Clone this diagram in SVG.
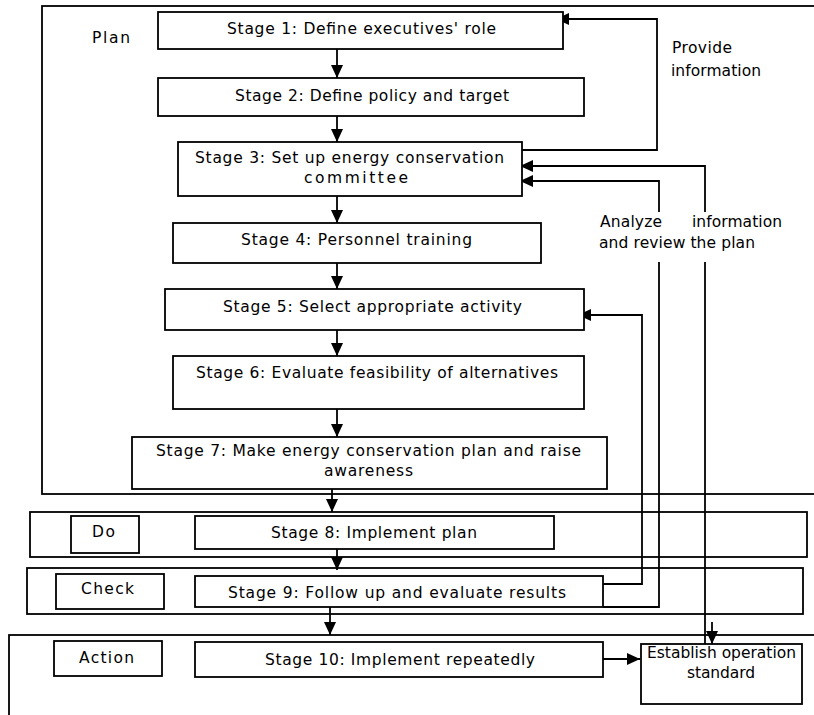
<svg xmlns="http://www.w3.org/2000/svg" width="814" height="715" viewBox="0 0 814 715">
<defs>
<style>
.b{fill:#fff;stroke:#000;stroke-width:1.8}
.f{fill:none;stroke:#000;stroke-width:1.8}
.t{font-family:"DejaVu Sans",Verdana,sans-serif;font-size:15.5px;fill:#000}
.c{stroke:#000;stroke-width:1.8;fill:none}
</style>
<marker id="ah" markerUnits="userSpaceOnUse" markerWidth="13" markerHeight="12" refX="13" refY="6" orient="auto">
<path d="M0,0 L13,6 L0,12 z" fill="#000"/>
</marker>
</defs>
<rect width="814" height="715" fill="#fff"/>
<g id="phases">
<rect id="plan-band" class="f" x="42" y="6" width="800" height="488"/>
<rect id="do-band" class="f" x="30" y="512" width="777" height="45"/>
<rect id="check-band" class="f" x="27" y="568" width="776" height="46"/>
<rect id="action-band" class="f" x="9" y="635" width="830" height="100"/>
<text class="t" x="92" y="43" textLength="38">Plan</text>
</g>
<g id="connectors">
<line class="c" x1="337" y1="49" x2="337" y2="78" marker-end="url(#ah)"/>
<line class="c" x1="337" y1="116" x2="337" y2="142" marker-end="url(#ah)"/>
<line class="c" x1="337" y1="196" x2="337" y2="223" marker-end="url(#ah)"/>
<line class="c" x1="337" y1="263" x2="337" y2="289" marker-end="url(#ah)"/>
<line class="c" x1="337" y1="330" x2="337" y2="356" marker-end="url(#ah)"/>
<line class="c" x1="337" y1="409" x2="337" y2="437" marker-end="url(#ah)"/>
<line class="c" x1="332" y1="489" x2="332" y2="512" marker-end="url(#ah)"/>
<line class="c" x1="337" y1="549" x2="337" y2="570" marker-end="url(#ah)"/>
<line class="c" x1="330" y1="607" x2="330" y2="635" marker-end="url(#ah)"/>
<polyline class="c" points="522,150 657,150 657,19 556,19" marker-end="url(#ah)"/>
<polyline class="c" points="705,212 705,166 520,166" marker-end="url(#ah)"/>
<line class="c" x1="705" y1="262" x2="705" y2="644"/>
<line class="c" x1="712" y1="622" x2="712" y2="644" marker-end="url(#ah)"/>
<polyline class="c" points="659,212 659,181 520,181" marker-end="url(#ah)"/>
<polyline class="c" points="603,607 659,607 659,262"/>
<polyline class="c" points="603,584 642,584 642,315 578,315" marker-end="url(#ah)"/>
<line class="c" x1="597" y1="659" x2="640" y2="659" marker-end="url(#ah)"/>
<text class="t" x="672" y="53" textLength="60">Provide</text>
<text class="t" x="671" y="76" textLength="90">information</text>
<text class="t" x="600" y="227" textLength="62">Analyze</text>
<text class="t" x="692" y="227" textLength="90">information</text>
<text class="t" x="599" y="248" textLength="156">and review the plan</text>
</g>
<g id="stage1"><rect class="b" x="158" y="12" width="405" height="37"/><text class="t" x="227" y="34" textLength="269">Stage 1: Define executives' role</text></g>
<g id="stage2"><rect class="b" x="158" y="78" width="426" height="38"/><text class="t" x="235" y="101" textLength="274">Stage 2: Define policy and target</text></g>
<g id="stage3"><rect class="b" x="178" y="142" width="344" height="54"/><text class="t" x="195" y="163" textLength="309">Stage 3: Set up energy conservation</text><text class="t" x="304" y="183" textLength="104">committee</text></g>
<g id="stage4"><rect class="b" x="173" y="223" width="368" height="40"/><text class="t" x="241" y="245" textLength="231">Stage 4: Personnel training</text></g>
<g id="stage5"><rect class="b" x="165" y="289" width="419" height="41"/><text class="t" x="223" y="312" textLength="299">Stage 5: Select appropriate activity</text></g>
<g id="stage6"><rect class="b" x="173" y="356" width="411" height="53"/><text class="t" x="196" y="378" textLength="362">Stage 6: Evaluate feasibility of alternatives</text></g>
<g id="stage7"><rect class="b" x="132" y="437" width="475" height="52"/><text class="t" x="156" y="456" textLength="425">Stage 7: Make energy conservation plan and raise</text><text class="t" x="324" y="476" textLength="89">awareness</text></g>
<g id="do"><rect class="b" x="71" y="516" width="68" height="37"/><text class="t" x="92" y="537" textLength="23">Do</text></g>
<g id="stage8"><rect class="b" x="195" y="516" width="359" height="33"/><text class="t" x="271" y="538" textLength="206">Stage 8: Implement plan</text></g>
<g id="check"><rect class="b" x="56" y="574" width="108" height="35"/><text class="t" x="81" y="594" textLength="53">Check</text></g>
<g id="stage9"><rect class="b" x="195" y="576" width="408" height="31"/><text class="t" x="228" y="598" textLength="338">Stage 9: Follow up and evaluate results</text></g>
<g id="action"><rect class="b" x="54" y="641" width="108" height="35"/><text class="t" x="79" y="663" textLength="55">Action</text></g>
<g id="stage10"><rect class="b" x="195" y="642" width="408" height="35"/><text class="t" x="265" y="665" textLength="270">Stage 10: Implement repeatedly</text></g>
<g id="standard"><rect class="f" x="641" y="644" width="161" height="60"/><text class="t" x="647" y="658" textLength="149">Establish operation</text><text class="t" x="687" y="678" textLength="68">standard</text></g>
</svg>
